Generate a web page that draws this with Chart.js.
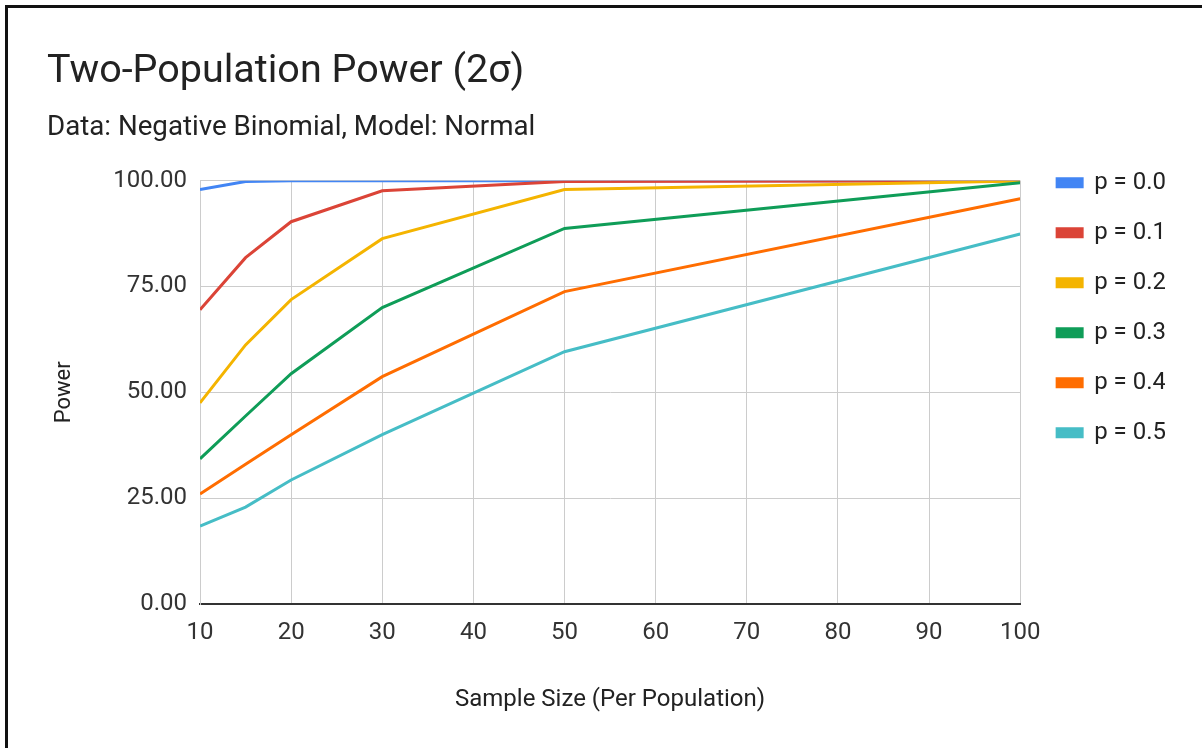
<!DOCTYPE html>
<html>
<head>
<meta charset="utf-8">
<script src="https://cdn.jsdelivr.net/npm/chart.js@4"></script>
<style>
  html, body { margin: 0; padding: 0; background: #fff; }
  #wrap { position: relative; width: 1202px; height: 748px; overflow: hidden; }
  #frame { position: absolute; left: 5px; top: 5px; width: 1250px; height: 800px; border: 3px solid #111; box-sizing: border-box; pointer-events: none; }
  canvas { position: absolute; left: 0; top: 0; }
</style>
</head>
<body>
<div id="wrap">
  <canvas id="chart" width="1202" height="748"></canvas>
  <div id="frame"></div>
</div>
<script>
// sample sizes per population
const sampleSizes = [10, 15, 20, 30, 50, 100];
const seriesLabels = ['p = 0.0', 'p = 0.1', 'p = 0.2', 'p = 0.3', 'p = 0.4', 'p = 0.5'];
const seriesColors = ['#4285F4', '#DB4437', '#F4B400', '#0F9D58', '#FF6D01', '#46BDC6'];

// power values (%)
const p00 = [97.9, 99.8, 100, 100, 100, 100];
const p01 = [69.5, 81.8, 90.3, 97.6, 99.8, 100];
const p02 = [47.5, 61.2, 71.9, 86.3, 97.9, 99.9];
const p03 = [34.3, 44.4, 54.4, 70.0, 88.7, 99.5];
const p04 = [26.0, 33.0, 40.0, 53.7, 73.8, 95.7];
const p05 = [18.4, 22.9, 29.3, 40.0, 59.6, 87.4];
const seriesValues = [p00, p01, p02, p03, p04, p05];

const yTicks = [0, 25, 50, 75, 100];

const datasets = seriesValues.map((vals, i) => ({
    label: seriesLabels[i],
    data: vals.map((v, j) => ({ x: sampleSizes[j], y: v })),
    borderColor: seriesColors[i],
    backgroundColor: seriesColors[i],
    borderWidth: 3,
    pointRadius: 0,
    tension: 0,
    fill: false,
    order: -i
}));

const font = 'Roboto';
const legendFont = 24;
const legendPad = 26;

// move the legend so its first row lines up with the top gridline
const legendShift = {
    id: 'legendShift',
    afterLayout(chart) {
        const lg = chart.legend;
        const area = chart.chartArea;
        lg.left = area.right + 11;
        lg.top = area.top - legendPad - legendFont / 2 + 2;
    }
};

new Chart(document.getElementById('chart').getContext('2d'), {
    type: 'line',
    data: { datasets: datasets },
    plugins: [legendShift],
    options: {
        responsive: false,
        animation: false,
        layout: { padding: { left: 47, right: 37, top: 0, bottom: 0 } },
        plugins: {
            title: {
                display: true,
                text: 'Two-Population Power (2σ)',
                align: 'start',
                color: '#222',
                font: { family: font, size: 39.5, weight: 'normal' },
                padding: { top: 48, bottom: 0 }
            },
            subtitle: {
                display: true,
                text: 'Data: Negative Binomial, Model: Normal',
                align: 'start',
                color: '#222',
                font: { family: font, size: 27.7, weight: 'normal' },
                padding: { top: 16, bottom: 36 }
            },
            legend: {
                position: 'right',
                align: 'start',
                fullSize: false,
                reverse: true,
                labels: {
                    boxWidth: 25,
                    boxHeight: 8,
                    padding: legendPad,
                    color: '#222',
                    font: { family: font, size: legendFont }
                }
            },
            tooltip: { enabled: false }
        },
        scales: {
            x: {
                type: 'linear',
                min: 10,
                max: 100,
                ticks: { stepSize: 10, color: '#333', padding: 15, font: { family: font, size: 24 } },
                grid: { color: '#cccccc', drawTicks: false },
                border: { color: '#333', width: 2 },
                title: {
                    display: true,
                    text: 'Sample Size (Per Population)',
                    color: '#222',
                    font: { family: font, size: 24 },
                    padding: { top: 0, bottom: 34 }
                },
                afterFit: s => { s.height = 144; }
            },
            y: {
                min: 0,
                max: 100,
                afterBuildTicks: s => { s.ticks = yTicks.map(v => ({ value: v })); },
                ticks: {
                    color: '#333',
                    padding: 13,
                    font: { family: font, size: 24 },
                    callback: v => v.toFixed(2)
                },
                grid: { color: '#cccccc', drawTicks: false },
                border: { color: '#cccccc' },
                title: {
                    display: true,
                    text: 'Power',
                    color: '#222',
                    font: { family: font, size: 22 },
                    padding: { top: 4, bottom: 0 }
                },
                afterFit: s => { s.width = 153; }
            }
        }
    }
});
</script>
</body>
</html>
